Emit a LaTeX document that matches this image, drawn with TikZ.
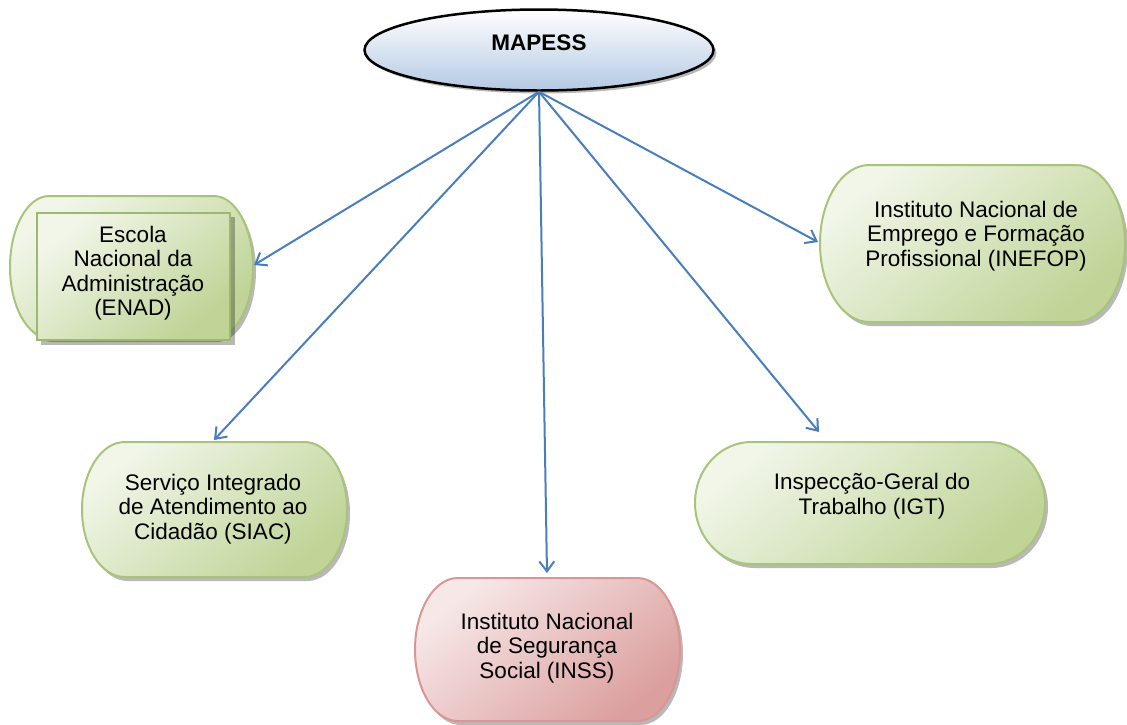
\documentclass[tikz,border=0pt]{standalone}
\usepackage{fontspec}
\setmainfont{Liberation Sans}
\usetikzlibrary{shapes.geometric,arrows.meta}
\definecolor{arrowblue}{HTML}{4A7EBB}
\definecolor{gline}{HTML}{A9C47A}
\definecolor{gdark}{HTML}{BFD496}
\definecolor{glight}{HTML}{F1F6E9}
\definecolor{rline}{HTML}{D99694}
\definecolor{rdark}{HTML}{DB9F9E}
\definecolor{rlight}{HTML}{F7E8E8}
\definecolor{bdark}{HTML}{B4C9E3}
\definecolor{innerline}{HTML}{9DB871}

\newcommand{\termbox}[5]{%
  \pgfmathsetmacro\tbr{0.161*(#4-#2)}%
  \pgfmathsetmacro\tbm{(#3+#5)/2}%
  \pgfmathsetmacro\tbkx{0.448*\tbr}%
  \pgfmathsetmacro\tbky{0.552*(#5-#3)/2}%
  \def\tbpath{({#2+\tbr},#3) -- ({#4-\tbr},#3)
    .. controls ({#4-\tbkx},#3) and (#4,{\tbm-\tbky}) .. (#4,\tbm)
    .. controls (#4,{\tbm+\tbky}) and ({#4-\tbkx},#5) .. ({#4-\tbr},#5)
    -- ({#2+\tbr},#5)
    .. controls ({#2+\tbkx},#5) and (#2,{\tbm+\tbky}) .. (#2,\tbm)
    .. controls (#2,{\tbm-\tbky}) and ({#2+\tbkx},#3) .. cycle}%
  \fill[shadowfill,shift={(3,4)}] \tbpath;
  \path[#1] \tbpath;
}

\tikzset{
  shadowfill/.style={fill=black,opacity=0.28},
  greenbox/.style={draw=gline,line width=2pt,top color=glight,bottom color=gdark,shading angle=40},
  redbox/.style={draw=rline,line width=2pt,top color=rlight,bottom color=rdark,shading angle=40},
  innerbox/.style={draw=innerline,line width=1.2pt,top color=glight,bottom color=gdark,shading angle=40},
  label/.style={align=center,font=\fontsize{22.5}{24.5}\selectfont,inner sep=0pt},
  conn/.style={draw=arrowblue,line width=2pt,-{Straight Barb[length=10pt,width=15pt,line width=2pt]}},
}

\begin{document}
\begin{tikzpicture}[x=1pt,y=-1pt]
\useasboundingbox (0,0) rectangle (1127,724);

% MAPESS ellipse
\fill[shadowfill] (542,53) ellipse [x radius=174.5, y radius=40.5];
\node[ellipse,draw=black,line width=2.5pt,top color=white,bottom color=bdark,
      minimum width=349pt,minimum height=81pt,inner sep=0pt] (M) at (539,50) {};
\node[font=\fontsize{22.5}{24.5}\selectfont\bfseries,inner sep=0pt] (mtxt) at (539,43) {MAPESS};

% ENAD
\termbox{greenbox}{10}{196}{253}{338}
\fill[shadowfill] (41,217) rectangle (235,345);
\path[innerbox] (37,213) rectangle (230,340);
\node[label] (enad) at (133,273) {Escola\\Nacional da\\Administração\\(ENAD)};

% INEFOP
\termbox{greenbox}{820}{165}{1125}{322}
\node[label] (inefop) at (976,236) {Instituto Nacional de\\Emprego e Formação\\Profissional (INEFOP)};

% SIAC
\termbox{greenbox}{82}{442}{347}{577}
\node[label] (siac) at (213,509) {Serviço Integrado\\de Atendimento ao\\Cidadão (SIAC)};

% INSS
\termbox{redbox}{415}{578}{680}{721}
\node[label] (inss) at (547,648) {Instituto Nacional\\de Segurança\\Social (INSS)};

% IGT
\termbox{greenbox}{695}{442}{1045}{564}
\node[label] (igt) at (872,496) {Inspecção-Geral do\\Trabalho (IGT)};

% arrow tips
\coordinate (tENAD) at (254,265);
\coordinate (tINEFOP) at (818,242);
\coordinate (tSIAC) at (214,440);
\coordinate (tINSS) at (547,573);
\coordinate (tIGT) at (819,432);

\draw[conn] (M.south) -- (tENAD);
\draw[conn] (M.south) -- (tINEFOP);
\draw[conn] (M.south) -- (tSIAC);
\draw[conn] (M.south) -- (tINSS);
\draw[conn] (M.south) -- (tIGT);
\end{tikzpicture}
\end{document}
